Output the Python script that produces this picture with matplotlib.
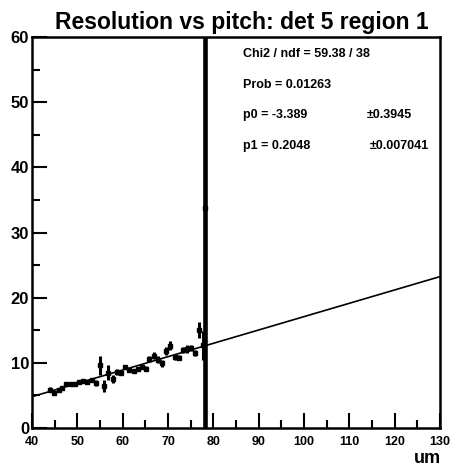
import matplotlib
matplotlib.use("Agg")
import matplotlib.pyplot as plt
from matplotlib.ticker import MultipleLocator
import numpy as np

# ── Data ──────────────────────────────────────────────────────────────────────
pitch = [43.9, 44.8, 45.9, 46.7, 47.6, 48.5, 49.5, 50.4, 51.3, 52.2,
         53.2, 54.1, 55.0, 55.9, 56.8, 57.8, 58.7, 59.6, 60.5, 61.5,
         62.4, 63.3, 64.2, 65.2, 65.9, 66.8, 67.8, 68.7, 69.6, 70.5,
         71.5, 72.4, 73.3, 74.1, 75.0, 75.9, 76.8, 77.8, 78.2]
resol = [5.9, 5.3, 5.9, 6.2, 6.8, 6.7, 6.8, 7.0, 7.2, 7.0,
         7.4, 6.9, 9.6, 6.5, 8.5, 7.5, 8.6, 8.5, 9.4, 8.9,
         8.7, 9.1, 9.4, 9.1, 10.6, 11.1, 10.5, 9.9, 11.8, 12.6,
         10.9, 10.8, 12.0, 12.1, 12.3, 11.5, 15.0, 12.7, 33.8]
resol_err = [0.4, 0.3, 0.3, 0.3, 0.3, 0.3, 0.3, 0.3, 0.3, 0.3,
             0.3, 0.4, 1.4, 0.9, 1.1, 0.6, 0.4, 0.3, 0.3, 0.3,
             0.3, 0.3, 0.3, 0.4, 0.5, 0.5, 0.5, 0.5, 0.6, 0.7,
             0.5, 0.4, 0.5, 0.6, 0.5, 0.5, 1.2, 2.2, 40.0]

# straight-line fit result
p0, p0_err = -3.389, 0.3945
p1, p1_err = 0.2048, 0.007041
chi2, ndf = 59.38, 38
prob = 0.01263

FONT = ["Liberation Sans", "DejaVu Sans"]

fig = plt.figure(figsize=(4.52, 4.69), dpi=100)
ax = fig.add_axes([0.0708, 0.0874, 0.9027, 0.8337])

ax.errorbar(pitch, resol, yerr=resol_err, fmt="s", ms=3, color="black",
            ecolor="black", elinewidth=2.2, capsize=0, zorder=3)
# thick bar for the last bin
ax.plot([pitch[-1], pitch[-1]], [0, 60], color="black", lw=3.3, zorder=3)

xf = np.array([40, 130])
ax.plot(xf, p0 + p1 * xf, color="black", lw=1.2, zorder=4)

ax.set_xlim(40, 130)
ax.set_ylim(0, 60)

ax.xaxis.set_major_locator(MultipleLocator(10))
ax.xaxis.set_minor_locator(MultipleLocator(5))
ax.yaxis.set_major_locator(MultipleLocator(10))
ax.yaxis.set_minor_locator(MultipleLocator(5))
ax.tick_params(which="both", direction="in", top=False, right=False, width=1.5)
ax.tick_params(which="major", length=11)
ax.tick_params(which="minor", length=6)
ax.tick_params(axis="y", labelsize=12, pad=2)
ax.tick_params(axis="x", labelsize=9, pad=6)
for lab in ax.get_xticklabels() + ax.get_yticklabels():
    lab.set_fontweight("bold")
    lab.set_family(FONT)
for sp in ax.spines.values():
    sp.set_linewidth(1.8)

ax.set_title("Resolution vs pitch: det 5 region 1", fontsize=16.5,
             fontweight="bold", family=FONT, pad=6, x=0.515)
fig.text(0.975, 0.005, "um", ha="right", va="bottom", fontsize=13,
         fontweight="bold", family=FONT)

# fit statistics panel
st = dict(fontsize=9, fontweight="bold", family=FONT, va="center",
          transform=fig.transFigure)
W, H = 452, 469
def tx(x, y, s, **kw):
    fig.text(x / W, 1 - y / H, s, **{**st, **kw})

tx(243, 54, f"Chi2 / ndf = {chi2:.2f} / {ndf}")
tx(243, 85, f"Prob = {prob:.5f}")
tx(243, 115, f"p0 = {p0:.3f}")
tx(367, 115, f"\u00b1{p0_err:.4f}")
tx(243, 146, f"p1 = {p1:.4f}")
tx(370, 146, f"\u00b1{p1_err:.6f}")

fig.savefig("out.png", dpi=100)
